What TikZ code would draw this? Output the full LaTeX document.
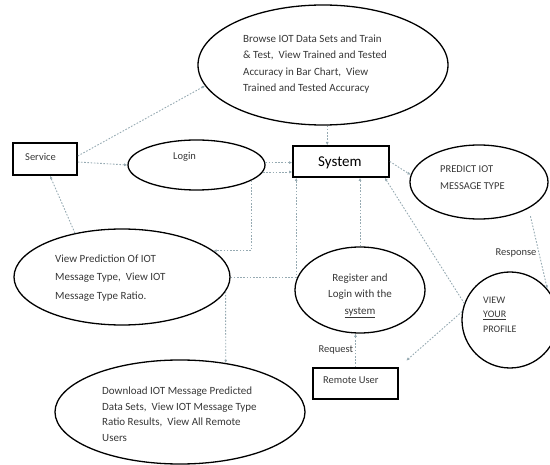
\documentclass[tikz,border=0pt]{standalone}
\usepackage{fontspec}
\setmainfont{Carlito}
\usetikzlibrary{shapes.geometric, arrows.meta}
\definecolor{linkgray}{RGB}{150,170,178}
\definecolor{inkgray}{RGB}{55,55,55}

\begin{document}
\begin{tikzpicture}[x=1pt, y=-1pt,
  oval/.style={ellipse, draw, line width=1.3pt, inner sep=0pt},
  box/.style={rectangle, draw, line width=1.6pt, inner sep=0pt},
  txt/.style={inner sep=0pt, align=left, anchor=north west, text=inkgray},
  link/.style={linkgray, line width=0.9pt, dash pattern=on 1.6pt off 1.6pt, -{Latex[length=3.2pt,width=3pt]}}]
\useasboundingbox (0,0) rectangle (550,465);
\clip (0,0) rectangle (550,465);
% use cases and actors
\node[oval, minimum width=250pt, minimum height=120pt] (browse) at (323,65) {};
\node[box, minimum width=64pt, minimum height=32pt] (service) at (45,159) {};
\node[oval, minimum width=137pt, minimum height=50pt] (login) at (196.5,165) {};
\node[box, minimum width=96pt, minimum height=31pt] (system) at (341,161.5) {};
\node[oval, minimum width=138pt, minimum height=74pt] (predict) at (479,182) {};
\node[oval, minimum width=96pt, minimum height=96pt] (profile) at (510,320) {};
\node[oval, minimum width=216pt, minimum height=96pt] (pv) at (122,277) {};
\node[oval, minimum width=130pt, minimum height=86pt] (register) at (360,290) {};
\node[box, minimum width=85pt, minimum height=31pt] (remote) at (355.5,383.5) {};
\node[oval, minimum width=250pt, minimum height=104pt] (download) at (180,412) {};
% texts
\node[txt, font=\fontsize{11}{16.5}\selectfont] (browsetxt) at (243,34.5)
  {Browse IOT Data Sets and Train\\\& Test,\ \ View Trained and Tested\\Accuracy in Bar Chart,\ \ View\\Trained and Tested Accuracy};
\node[txt, anchor=west, font=\fontsize{10.5}{12}\selectfont] (servicetxt) at (25,157) {Service};
\node[txt, anchor=west, font=\fontsize{10.5}{12}\selectfont] (logintxt) at (173,157) {Login};
\node[txt, anchor=west, text=black, font=\fontsize{15}{18}\selectfont] (systemtxt) at (318,163) {System};
\node[txt, font=\fontsize{10.5}{17}\selectfont] (predicttxt) at (440,165.5) {PREDICT IOT\\MESSAGE TYPE};
\node[txt, font=\fontsize{10}{14.5}\selectfont] (profiletxt) at (483,296.5) {VIEW\\\underline{YOUR}\\PROFILE};
\node[txt, font=\fontsize{11}{18.5}\selectfont] (pvtxt) at (55,254.5)
  {View Prediction Of IOT\\Message Type,\ \ View IOT\\Message Type Ratio.};
\node[txt, anchor=north, align=center, font=\fontsize{11}{16.5}\selectfont] (registertxt) at (360,273.5)
  {Register and\\Login with the\\\underline{system}};
\node[txt, font=\fontsize{11}{15.7}\selectfont] (downloadtxt) at (102,386.5)
  {Download IOT Message Predicted\\Data Sets,\ \ View IOT Message Type\\Ratio Results,\ \ View All Remote\\Users};
\node[txt, anchor=west, font=\fontsize{10.5}{12}\selectfont] (remotetxt) at (323,380) {Remote User};
% connectors
\draw[link] ([yshift=3pt]service.east) -- (browse.190);
\draw[link] ([yshift=-3pt]service.east) -- (login.west);
\draw[link] (login.2) -- (login.2 -| system.west);
\draw[link] (login.-6) -- (login.-6 -| system.west);
\draw[link] (login.-16) |- (pv.16);
\draw[link] (pv.east) -| ([xshift=4pt]system.south west);
\draw[link] (register.north) -- (register.north |- system.south);
\draw[link] (browse.-86) -- (browse.-86 |- system.north);
\draw[link] (pv.137) -- ([xshift=5pt]service.south);
\draw[link] (pv.-8) -- (download.47);
\draw[link] (system.east) -- (predict.174);
\draw[link, shorten <=8pt] (predict.-28) -- node[pos=0.55, left, inner sep=2pt, text=inkgray,
  font=\fontsize{10.5}{12}\selectfont] {Response} (profile.40);
\draw[link] (profile.160) -- ([xshift=-5pt]system.south east);
\draw[link, shorten >=10pt] (profile.170) -- (remote.north east);
\draw[link] (remote.north) -- node[midway, left, inner sep=2pt, text=inkgray,
  font=\fontsize{10.5}{12}\selectfont] {Request} (remote.north |- register.south);
\end{tikzpicture}
\end{document}
